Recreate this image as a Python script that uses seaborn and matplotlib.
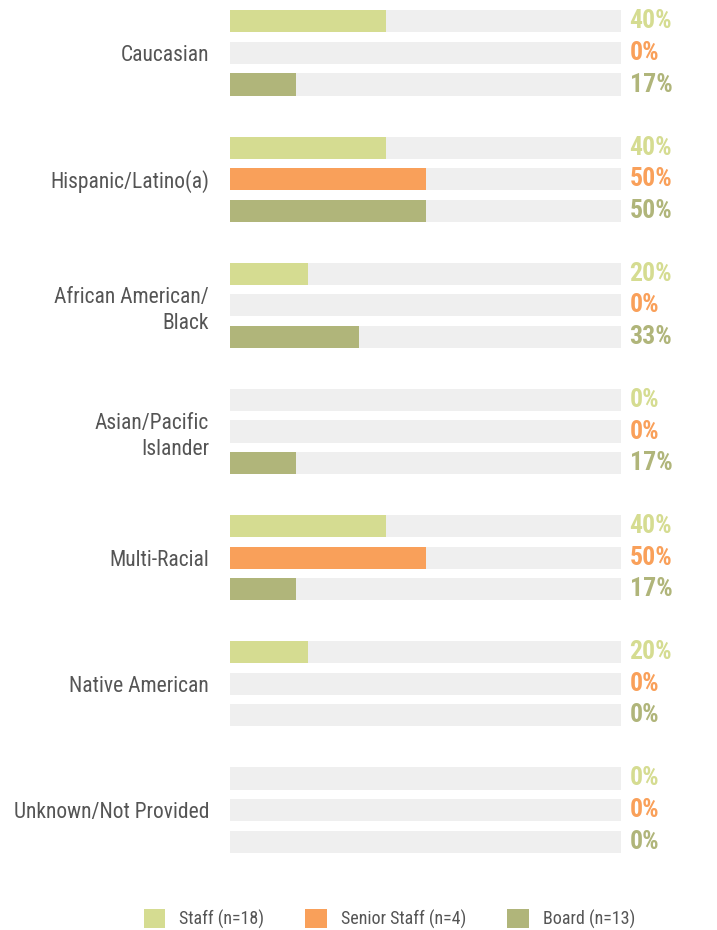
import pandas as pd
import matplotlib.pyplot as plt
import seaborn as sns
from matplotlib.patches import Patch

# data
categories = ['Caucasian', 'Hispanic/Latino(a)', 'African American/\nBlack',
              'Asian/Pacific\nIslander', 'Multi-Racial', 'Native American',
              'Unknown/Not Provided']
groups = ['Staff (n=18)', 'Senior Staff (n=4)', 'Board (n=13)']
staff = [40, 40, 20, 0, 40, 20, 0]
senior = [0, 50, 0, 0, 50, 0, 0]
board = [17, 50, 33, 17, 17, 0, 0]

colors = ['#d5dc91', '#f9a05a', '#b0b57a']
track = '#efefef'

sns.set_style('white')
plt.rcParams['font.family'] = ['Roboto Condensed', 'DejaVu Sans']

rows = []
for g, vals in zip(groups, [staff, senior, board]):
    for c, v in zip(categories, vals):
        rows.append({'category': c, 'group': g, 'value': v, 'full': 100})
df = pd.DataFrame(rows)

fig = plt.figure(figsize=(7.17, 9.30), dpi=100)
ax = fig.add_axes([230 / 717, 1 - 860.5 / 930, 391 / 717, 858 / 930])

# grey tracks behind each bar
sns.barplot(data=df, y='category', x='full', hue='group', orient='h',
            palette=[track] * 3, width=0.75, gap=0.3, ax=ax, legend=False,
            errorbar=None, saturation=1, linewidth=0)
n_bg = len(ax.containers)
sns.barplot(data=df, y='category', x='value', hue='group', orient='h',
            palette=colors, width=0.75, gap=0.3, ax=ax, legend=False,
            errorbar=None, saturation=1, linewidth=0)

# value labels
for cont, col in zip(ax.containers[n_bg:], colors):
    for bar in cont:
        y = bar.get_y() + bar.get_height() / 2
        ax.text(102.2, y, f'{bar.get_width():.0f}%', color=col, fontsize=18.5,
                fontweight='bold', ha='left', va='center', clip_on=False)

ax.set_xlim(0, 100)
ax.set_ylim(6.4, -0.4)
ax.set_xlabel('')
ax.set_ylabel('')
ax.set_xticks([])
sns.despine(ax=ax, left=True, bottom=True)
ax.tick_params(axis='y', length=0, pad=15, labelsize=15.5, labelcolor='#555555')
for lbl in ax.get_yticklabels():
    lbl.set_linespacing(1.33)

handles = [Patch(facecolor=c, edgecolor='none', label=g) for c, g in zip(colors, groups)]
fig.legend(handles=handles, loc='lower center', bbox_to_anchor=(0.543, -0.016),
           ncol=3, frameon=False, fontsize=13, handlelength=1.2, handleheight=1.2,
           handletextpad=0.75, columnspacing=2.3, labelcolor='#555555')

fig.savefig('out.png', dpi=100)
